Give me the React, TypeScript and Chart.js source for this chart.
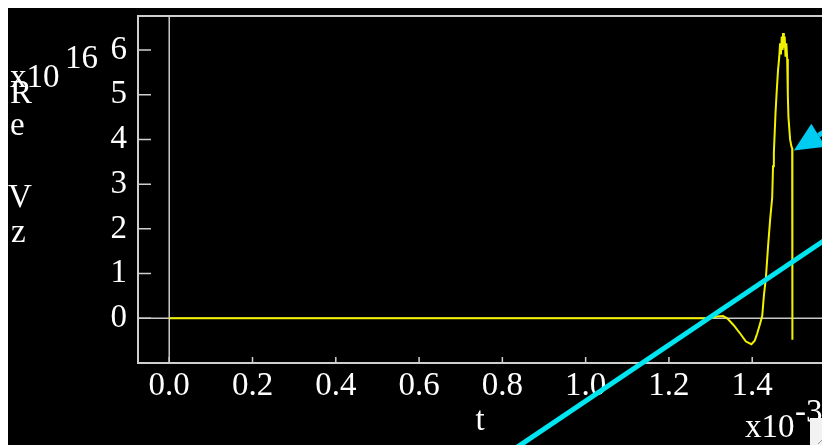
import { useEffect, useRef } from "react";
import { Chart, registerables } from "chart.js";

Chart.register(...registerables);

// Time axis (units of 1e-3) and the real part of Vz (units of 1e16)
const tMs = [
  0, 1.3, 1.315, 1.33, 1.34, 1.355, 1.371, 1.385, 1.398, 1.406, 1.412, 1.418,
  1.424, 1.428, 1.433, 1.438, 1.443, 1.448, 1.45, 1.452, 1.456, 1.459, 1.462,
  1.465, 1.467, 1.469, 1.471, 1.473, 1.474, 1.476, 1.478, 1.48, 1.482, 1.484,
  1.4855, 1.487, 1.489, 1.491, 1.494, 1.496, 1.4965,
];
const reVz = [
  0, 0, 0.04, 0.05, 0.0, -0.15, -0.34, -0.52, -0.58, -0.5, -0.34, -0.15,
  0.05, 0.5, 0.92, 1.6, 2.2, 2.7, 3.4, 3.7, 4.6, 5.1, 5.55,
  5.85, 6.15, 5.9, 6.3, 6.0, 6.38, 6.05, 6.3, 5.85, 6.15, 5.8,
  5.0, 4.5, 4.25, 4.0, 3.85, 3.8, -0.48,
];

const xTicks = [0, 0.2, 0.4, 0.6, 0.8, 1.0, 1.2, 1.4];
const yTicks = [0, 1, 2, 3, 4, 5, 6];

// Annotation anchors, in data units
const arrowTip = { x: 1.5, y: 3.75 };
const slashLine = [
  { x: 0.831, y: -2.91 },
  { x: 1.587, y: 1.83 },
];

const FONT = '"Liberation Serif", "Times New Roman", serif';
const FONT_SIZE = 33;
const FRAME = "#cfcfcf";

const decorations = {
  id: "decorations",
  beforeDraw(chart: any) {
    const { ctx, width, height } = chart;
    ctx.save();
    ctx.fillStyle = "#000";
    ctx.fillRect(0, 0, width, height);
    ctx.restore();
  },
  beforeDatasetsDraw(chart: any) {
    const { ctx, chartArea: a, scales } = chart;
    const xs = scales.x;
    const ys = scales.y;
    ctx.save();
    // zero reference lines
    ctx.strokeStyle = "#c8c8c8";
    ctx.lineWidth = 1.5;
    const x0 = xs.getPixelForValue(0);
    const y0 = ys.getPixelForValue(0);
    ctx.beginPath();
    ctx.moveTo(x0, a.top);
    ctx.lineTo(x0, a.bottom);
    ctx.moveTo(a.left, y0);
    ctx.lineTo(a.right, y0);
    ctx.stroke();
    // inward tick marks
    ctx.strokeStyle = FRAME;
    ctx.lineWidth = 1.5;
    ctx.beginPath();
    for (const v of yTicks) {
      const py = ys.getPixelForValue(v);
      ctx.moveTo(a.left, py);
      ctx.lineTo(a.left + 13, py);
    }
    for (const v of xTicks) {
      const px = xs.getPixelForValue(v);
      ctx.moveTo(px, a.bottom);
      ctx.lineTo(px, a.bottom - 6);
    }
    ctx.stroke();
    // frame
    ctx.lineWidth = 2;
    ctx.strokeRect(a.left, a.top, a.right - a.left, a.bottom - a.top);
    ctx.restore();
  },
  afterDraw(chart: any) {
    const { ctx, scales } = chart;
    const xs = scales.x;
    const ys = scales.y;
    ctx.save();
    ctx.fillStyle = "#fff";
    ctx.font = `${FONT_SIZE}px ${FONT}`;
    ctx.textBaseline = "alphabetic";
    ctx.textAlign = "left";
    // y-axis exponent and vertical title
    ctx.fillText("x10", 2, 81);
    ctx.fillText("16", 57, 62);
    ctx.fillText("R", 2, 97);
    ctx.fillText("e", 2, 129);
    ctx.fillText("V", 0, 201);
    ctx.fillText("z", 3, 236);
    // x-axis title and exponent
    ctx.textAlign = "center";
    ctx.fillText("t", 472, 424);
    ctx.textAlign = "left";
    ctx.fillText("x10", 737, 431);
    ctx.fillText("-3", 787, 416);

    // cyan slash line
    ctx.strokeStyle = "#00e6f0";
    ctx.lineWidth = 5;
    ctx.beginPath();
    ctx.moveTo(xs.getPixelForValue(slashLine[0].x), ys.getPixelForValue(slashLine[0].y));
    ctx.lineTo(xs.getPixelForValue(slashLine[1].x), ys.getPixelForValue(slashLine[1].y));
    ctx.stroke();

    // cyan arrow pointing at the falling edge
    const tx = xs.getPixelForValue(arrowTip.x);
    const ty = ys.getPixelForValue(arrowTip.y);
    const dx = -0.849;
    const dy = 0.528;
    const headLen = 29;
    const headHalf = 13.5;
    const bx = tx - dx * headLen;
    const by = ty - dy * headLen;
    ctx.fillStyle = "#00ccf2";
    ctx.strokeStyle = "#00ccf2";
    ctx.lineWidth = 5;
    ctx.beginPath();
    ctx.moveTo(bx, by);
    ctx.lineTo(bx - dx * 80, by - dy * 80);
    ctx.stroke();
    ctx.beginPath();
    ctx.moveTo(tx, ty);
    ctx.lineTo(bx + dy * headHalf, by - dx * headHalf);
    ctx.lineTo(bx - dy * headHalf, by + dx * headHalf);
    ctx.closePath();
    ctx.fill();

    // window resize grip in the corner
    const gx = 802;
    const gy = 412;
    ctx.fillStyle = "#f2f2f2";
    ctx.fillRect(gx, gy, 20, 27);
    ctx.strokeStyle = "#9a9a9a";
    ctx.lineWidth = 1;
    ctx.beginPath();
    for (let i = 0; i < 3; i++) {
      ctx.moveTo(gx + 8 + i * 4, gy + 26);
      ctx.lineTo(gx + 19, gy + 15 + i * 4);
    }
    ctx.stroke();
    ctx.restore();
  },
};

export default function App() {
  const ref = useRef<HTMLCanvasElement | null>(null);

  useEffect(() => {
    if (!ref.current) return;
    const points = tMs.map((t, i) => ({ x: t, y: reVz[i] }));
    const chart = new Chart(ref.current, {
      type: "line",
      data: {
        datasets: [
          {
            data: points,
            borderColor: "#f2f200",
            borderWidth: 2,
            pointRadius: 0,
            tension: 0,
            fill: false,
          },
        ],
      },
      options: {
        animation: false,
        responsive: false,
        devicePixelRatio: 1,
        events: [],
        layout: { padding: { left: 0, top: 10, right: 7, bottom: 0 } },
        plugins: { legend: { display: false }, tooltip: { enabled: false } },
        scales: {
          x: {
            type: "linear",
            min: -0.075,
            max: 1.57,
            grid: { display: false, drawTicks: false },
            border: { display: false },
            afterFit: (s: any) => {
              s.height = 82;
              s.paddingLeft = 0;
              s.paddingRight = 0;
            },
            afterBuildTicks: (s: any) => {
              s.ticks = xTicks.map((v) => ({ value: v }));
            },
            ticks: {
              color: "#fff",
              font: { family: FONT, size: FONT_SIZE },
              padding: 4,
              maxRotation: 0,
              autoSkip: false,
              callback: (v: any) => Number(v).toFixed(1),
            },
          },
          y: {
            type: "linear",
            min: -1.0,
            max: 6.76,
            grid: { display: false, drawTicks: false },
            border: { display: false },
            afterFit: (s: any) => {
              s.width = 130;
              s.paddingTop = 0;
              s.paddingBottom = 0;
            },
            afterBuildTicks: (s: any) => {
              s.ticks = yTicks.map((v) => ({ value: v }));
            },
            ticks: {
              color: "#fff",
              font: { family: FONT, size: FONT_SIZE },
              padding: 11,
              autoSkip: false,
              callback: (v: any) => String(v),
            },
          },
        },
      },
      plugins: [decorations],
    });
    return () => chart.destroy();
  }, []);

  return (
    <div style={{ marginTop: -2, width: 822, height: 439 }}>
      <canvas ref={ref} width={822} height={439} style={{ display: "block" }} />
    </div>
  );
}
